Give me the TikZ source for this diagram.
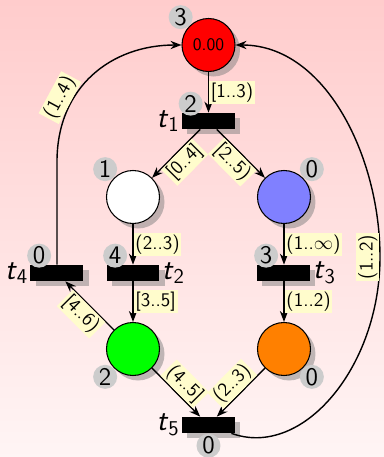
\documentclass[tikz,border=0pt]{standalone}
\usepackage{amsmath}
\usepackage{tikz}
\usetikzlibrary{arrows.meta,shadows}
\renewcommand{\familydefault}{\sfdefault}
\tikzset{
  >={Stealth[length=2.2mm]},
  sombra/.style={drop shadow={shadow xshift=0.1cm, shadow yshift=-0.1cm}},
  lugar/.style={circle, draw, semithick, minimum size=1.06cm, inner sep=0pt, sombra},
  trans/.style={rectangle, fill=black, minimum width=1.06cm, minimum height=0.32cm, inner sep=0pt, sombra},
  marca/.style={circle, fill=gray!40, minimum size=0.48cm, inner sep=0pt, font=\Large},
  nombre/.style={font=\LARGE, inner sep=1pt},
  cota/.style={fill=yellow!20, inner sep=1pt, font=\fontsize{11}{13}\selectfont},
  arco/.style={->, thick},
}

\begin{document}
\begin{tikzpicture}
  \shade[top color=red!20, bottom color=red!4] (0,0) rectangle (7.68,9.14);
  \useasboundingbox (0,0) rectangle (7.68,9.14);
  \node[lugar, fill=red] (p1) at (4.17,8.24) {0.00};
  \node[trans] (t1) at (4.17,6.72) {};
  \node[lugar, fill=white] (p2) at (2.66,5.20) {};
  \node[lugar, fill=blue!50] (p3) at (5.68,5.20) {};
  \node[trans] (t4) at (1.14,3.68) {};
  \node[trans] (t2) at (2.66,3.68) {};
  \node[trans] (t3) at (5.68,3.68) {};
  \node[lugar, fill=green] (p4) at (2.66,2.16) {};
  \node[lugar, fill=orange] (p5) at (5.68,2.16) {};
  \node[trans] (t5) at (4.17,0.64) {};
  \node[nombre, left] (n1) at (t1.west) {\textit{t}\textsubscript{1}};
  \node[nombre, right] (n2) at (t2.east) {\textit{t}\textsubscript{2}};
  \node[nombre, right] (n3) at (t3.east) {\textit{t}\textsubscript{3}};
  \node[nombre, left] (n4) at (t4.west) {\textit{t}\textsubscript{4}};
  \node[nombre, left] (n5) at (t5.west) {\textit{t}\textsubscript{5}};
  \draw[arco] (p1) -- node[cota, right] {[1..3)} (t1);
  \draw[arco] (t1) -- node[cota, sloped, below] {[0..4]} (p2);
  \draw[arco] (t1) -- node[cota, sloped, below] {[2..5)} (p3);
  \draw[arco] (p2) -- node[cota, right] {(2..3)} (t2);
  \draw[arco] (p3) -- node[cota, right] {(1..$\infty$)} (t3);
  \draw[arco] (t2) -- node[cota, right] {[3..5]} (p4);
  \draw[arco] (t3) -- node[cota, right] {(1..2)} (p5);
  \draw[arco] (p4) -- node[cota, sloped, below] {[4..6)} (t4);
  \draw[arco] (p4) -- node[cota, sloped, above] {(4..5]} (t5);
  \draw[arco] (p5) -- node[cota, sloped, above] {(2..3)} (t5);
  \draw[arco] (t4.north) -- ++(0,2.06) .. controls +(0,1.5) and +(-1.4,0) .. node[cota, sloped, above, pos=0.3] {(1..4)} (p1.west);
  \draw[arco] (t5) .. controls +(-20:2) and +(0,-2.2) .. node[cota, sloped, above, pos=1] {(1..2)} (7.6,4.0) .. controls +(0,2.0) and +(1.8,0) .. (p1.east);
  \node[marca, anchor=-45] (m1) at (p1.135) {3};
  \node[marca, anchor=-45] (m2) at (p2.135) {1};
  \node[marca, anchor=-135] (m3) at (p3.45) {0};
  \node[marca, anchor=45] (m4) at (p4.-135) {2};
  \node[marca, anchor=135] (m5) at (p5.-45) {0};
  \node[marca] (m6) at ([shift={(0.18,0.18)}]t1.north west) {2};
  \node[marca] (m7) at ([shift={(0.18,0.18)}]t2.north west) {4};
  \node[marca] (m8) at ([shift={(0.18,0.18)}]t3.north west) {3};
  \node[marca] (m9) at ([shift={(0.18,0.18)}]t4.north west) {0};
  \node[marca, below] (m10) at (t5.south) {0};
\end{tikzpicture}
\end{document}
